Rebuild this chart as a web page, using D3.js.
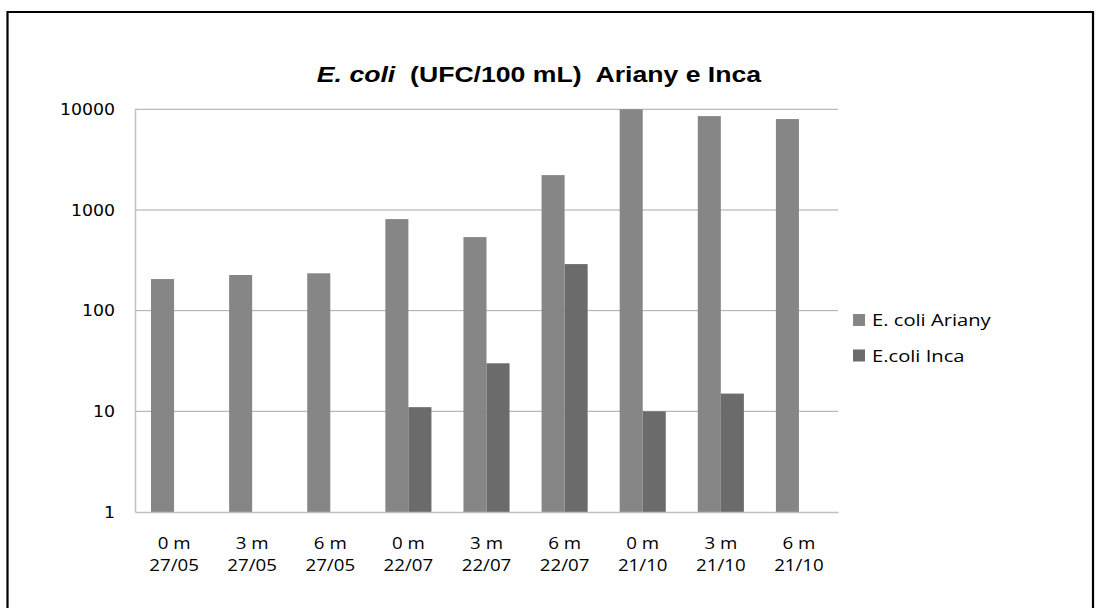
<!DOCTYPE html>
<html>
<head>
  <title>E. coli Ariany e Inca</title>
  <style>
    body { margin: 0; background: #fff; }
    .axis-y text { font-family: "DejaVu Sans", Verdana, sans-serif; font-size: 16.5px; fill: #000; }
    .axis-x text { font-family: "Open Sans", sans-serif; font-size: 17px; fill: #000; }
    .legend text { font-family: "Open Sans", sans-serif; font-size: 16px; fill: #000; }
  </style>
</head>
<body>
  <svg id="chart" width="1096" height="608"></svg>

  <script src="https://d3js.org/d3.v7.min.js"></script>
  <script>
    // data
    const categories = ["0 m|27/05", "3 m|27/05", "6 m|27/05", "0 m|22/07", "3 m|22/07",
                        "6 m|22/07", "0 m|21/10", "3 m|21/10", "6 m|21/10"];
    const ariany = [206, 226, 235, 812, 538, 2220, 10000, 8560, 8000];
    const inca = [null, null, null, 11, 30, 290, 10, 15, null];
    const seriesNames = ["E. coli Ariany", "E.coli Inca"];
    const seriesColors = ["#868686", "#6b6b6b"];
    const yTicks = [1, 10, 100, 1000, 10000];

    const width = 1096;
    const height = 608;
    const plot = { left: 135, right: 838, top: 109.3, bottom: 512 };

    // widen text horizontally (the original rendering is stretched)
    function stretch(sel, factor) {
      sel.each(function () {
        const w = this.getComputedTextLength();
        d3.select(this).attr("textLength", w * factor).attr("lengthAdjust", "spacingAndGlyphs");
      });
    }

    const svg = d3.select("#chart")
                  .attr("width", width)
                  .attr("height", height);

    // outer frame (top, left, right)
    svg.append("path")
       .attr("d", `M7.5,${height} L7.5,12 L1093,12 L1093,${height}`)
       .attr("fill", "none")
       .attr("stroke", "#000")
       .attr("stroke-width", 2.2);

    // title
    const title = svg.append("text")
       .attr("x", 539)
       .attr("y", 82)
       .attr("text-anchor", "middle")
       .attr("font-family", "Liberation Sans, Arial, sans-serif")
       .attr("font-weight", "bold")
       .attr("font-size", 22)
       .attr("fill", "#000");
    title.append("tspan").attr("font-style", "italic").text("E. coli");
    title.append("tspan").attr("xml:space", "preserve").text("  (UFC/100 mL)  Ariany e Inca");
    stretch(title, 1.21);

    // scales
    const xScale = d3.scaleBand()
                     .domain(categories)
                     .range([plot.left, plot.right])
                     .padding(0);

    const yScale = d3.scaleLog()
                     .domain([1, 10000])
                     .range([plot.bottom, plot.top]);

    const barW = xScale.bandwidth() * 0.295;

    // gridlines
    svg.append("g")
       .selectAll("line")
       .data(yTicks.slice(1))
       .enter().append("line")
       .attr("x1", plot.left)
       .attr("x2", plot.right)
       .attr("y1", d => yScale(d))
       .attr("y2", d => yScale(d))
       .attr("stroke", "#a9a9a9")
       .attr("stroke-width", 1);

    // bars
    const groups = [ariany, inca];
    groups.forEach((vals, si) => {
      svg.append("g")
         .selectAll("rect")
         .data(vals.map((v, i) => ({ cat: categories[i], v })).filter(d => d.v != null))
         .enter().append("rect")
         .attr("x", d => xScale(d.cat) + xScale.bandwidth() / 2 - barW + si * barW)
         .attr("y", d => yScale(d.v))
         .attr("width", barW)
         .attr("height", d => plot.bottom - yScale(d.v))
         .attr("fill", seriesColors[si]);
    });

    // axes
    const yAxis = svg.append("g")
       .attr("class", "axis-y")
       .attr("transform", `translate(${plot.left},0)`)
       .call(d3.axisLeft(yScale).tickValues(yTicks).tickFormat(d3.format("d")).tickSize(0).tickPadding(20));
    yAxis.select(".domain").attr("stroke", "#c0c0c0").attr("stroke-width", 1.5);
    stretch(yAxis.selectAll(".tick text"), 1.05);

    const xAxis = svg.append("g")
       .attr("class", "axis-x")
       .attr("transform", `translate(0,${plot.bottom})`)
       .call(d3.axisBottom(xScale).tickSize(0).tickFormat(""));
    xAxis.select(".domain").attr("stroke", "#c0c0c0").attr("stroke-width", 1.5);
    xAxis.selectAll(".tick text").remove();
    const xLabels = xAxis.selectAll(".tick")
       .selectAll("text.lbl")
       .data(d => d.split("|"))
       .enter().append("text")
       .attr("class", "lbl")
       .attr("text-anchor", "middle")
       .attr("x", 0)
       .attr("y", (d, i) => 37 + i * 22)
       .text(d => d);
    stretch(xLabels, 1.1);

    // legend
    const legend = svg.append("g").attr("class", "legend");
    seriesNames.forEach((name, i) => {
      legend.append("rect")
            .attr("x", 853)
            .attr("y", 314 + i * 35.5)
            .attr("width", 12)
            .attr("height", 12)
            .attr("fill", seriesColors[i]);
      legend.append("text")
            .attr("x", 872)
            .attr("y", 326 + i * 35.5)
            .text(name);
    });
    stretch(legend.selectAll("text"), 1.26);
  </script>
</body>
</html>
